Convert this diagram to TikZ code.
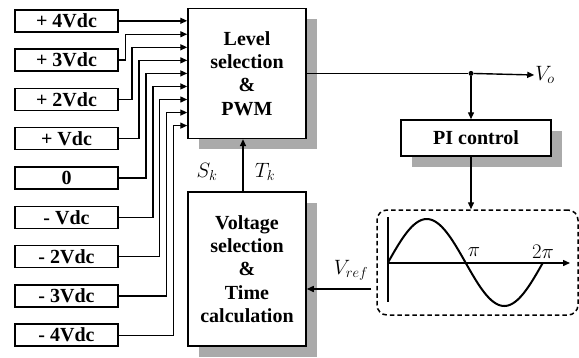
\documentclass[tikz,border=0pt]{standalone}
\usepackage{fontspec}
\setmainfont{Liberation Serif}
\newfontfamily\timesfont{Liberation Serif}
\usetikzlibrary{positioning, arrows.meta, shadows}
\definecolor{shadeGray}{RGB}{170,170,170}

\begin{document}
\begin{tikzpicture}[
    x=1pt, y=-1pt,
    font=\timesfont\fontsize{20}{23.4}\selectfont\bfseries,
    lv/.style={draw, line width=1.5pt, minimum width=103pt, minimum height=22pt, inner sep=0pt},
    blk/.style={draw, line width=1.5pt, fill=white, align=center, inner sep=0pt,
                general shadow={fill=shadeGray, shadow xshift=11pt, shadow yshift=-11pt}},
    a/.style={-{Triangle[length=7pt, width=6pt]}, line width=1.4pt},
    lbl/.style={font=\fontsize{20}{22}\selectfont, inner sep=1pt},
  ]
    \useasboundingbox (0,0) rectangle (579,357);
    % voltage levels
    \node[lv] (p4) at (66.5,20.8) {+ 4Vdc};
    \node[lv, below=15.8pt of p4] (p3) {+ 3Vdc};
    \node[lv, below=15.8pt of p3] (p2) {+ 2Vdc};
    \node[lv, below=15.8pt of p2] (p1) {+ Vdc};
    \node[lv, below=15.8pt of p1] (z0) {0};
    \node[lv, below=15.8pt of z0] (m1) {- Vdc};
    \node[lv, below=15.8pt of m1] (m2) {- 2Vdc};
    \node[lv, below=15.8pt of m2] (m3) {- 3Vdc};
    \node[lv, below=15.8pt of m3] (m4) {- 4Vdc};
    % blocks
    \node[blk, minimum width=118pt, minimum height=130pt] (level) at (247,73.4) {Level\\selection\\\&\\PWM};
    \node[blk, minimum width=118pt, minimum height=154pt] (volt) at (247,269) {Voltage\\selection\\\&\\Time\\calculation};
    \node[blk, minimum width=150pt, minimum height=36pt] (ctrl) at (476,138) {PI control};
    \node[draw, dashed, dash pattern=on 4.5pt off 3pt, line width=1.5pt, rounded corners=10pt,
          minimum width=201pt, minimum height=105pt] (wave) at (477.5,262.5) {};
    \node[fill, circle, inner sep=0pt, minimum size=5pt] (jn) at (471,73.4) {};
    \node[lbl] (vo) at (545,75) {$V_o$};
    \node[lbl] (vref) at (351,270) {$V_{ref}$};
    \node[lbl] (sk) at (207,172) {$S_k$};
    \node[lbl] (tk) at (265,172) {$T_k$};
    % inputs to level selection
    \draw[a] (p4.east) -- (p4.east -| level.west);
    \draw[a] (p3.east) -- ++(6.5,0) |- ([yshift=39.15pt]level.west);
    \draw[a] (p2.east) -- ++(13.4,0) |- ([yshift=26.1pt]level.west);
    \draw[a] (p1.east) -- ++(20.3,0) |- ([yshift=13.05pt]level.west);
    \draw[a] (z0.east) -- ++(27.2,0) |- (level.west);
    \draw[a] (m1.east) -- ++(34.1,0) |- ([yshift=-13.05pt]level.west);
    \draw[a] (m2.east) -- ++(41,0) |- ([yshift=-26.1pt]level.west);
    \draw[a] (m3.east) -- ++(47.9,0) |- ([yshift=-39.15pt]level.west);
    \draw[a] (m4.east) -- ++(54.8,0) |- ([yshift=-52.2pt]level.west);
    % feedback loop
    \draw[line width=1.4pt] (level.east) -- (jn);
    \draw[a] (jn) -- (vo.west);
    \draw[a] (jn) -- (jn |- ctrl.north);
    \draw[a] (jn |- ctrl.south) -- (jn |- wave.north);
    \draw[a] ([xshift=-5pt, yshift=-26.5pt]wave.west) coordinate (vr) -- (vr -| volt.east);
    \draw[a] ([xshift=-4pt]volt.north) -- ([xshift=-4pt]level.south);
    % reference sine
    \draw[line width=1.4pt] (388,217) -- (388,302);
    \draw[a] (388,263) -- (570,263);
    \draw[line width=2pt] plot[domain=0:360, samples=73, smooth] ({388+(\x/360)*155},{262.5-43.5*sin(\x)});
    \node[lbl] (pi1) at (474,252) {$\pi$};
    \node[lbl] (pi2) at (543,252) {$2\pi$};
\end{tikzpicture}
\end{document}
